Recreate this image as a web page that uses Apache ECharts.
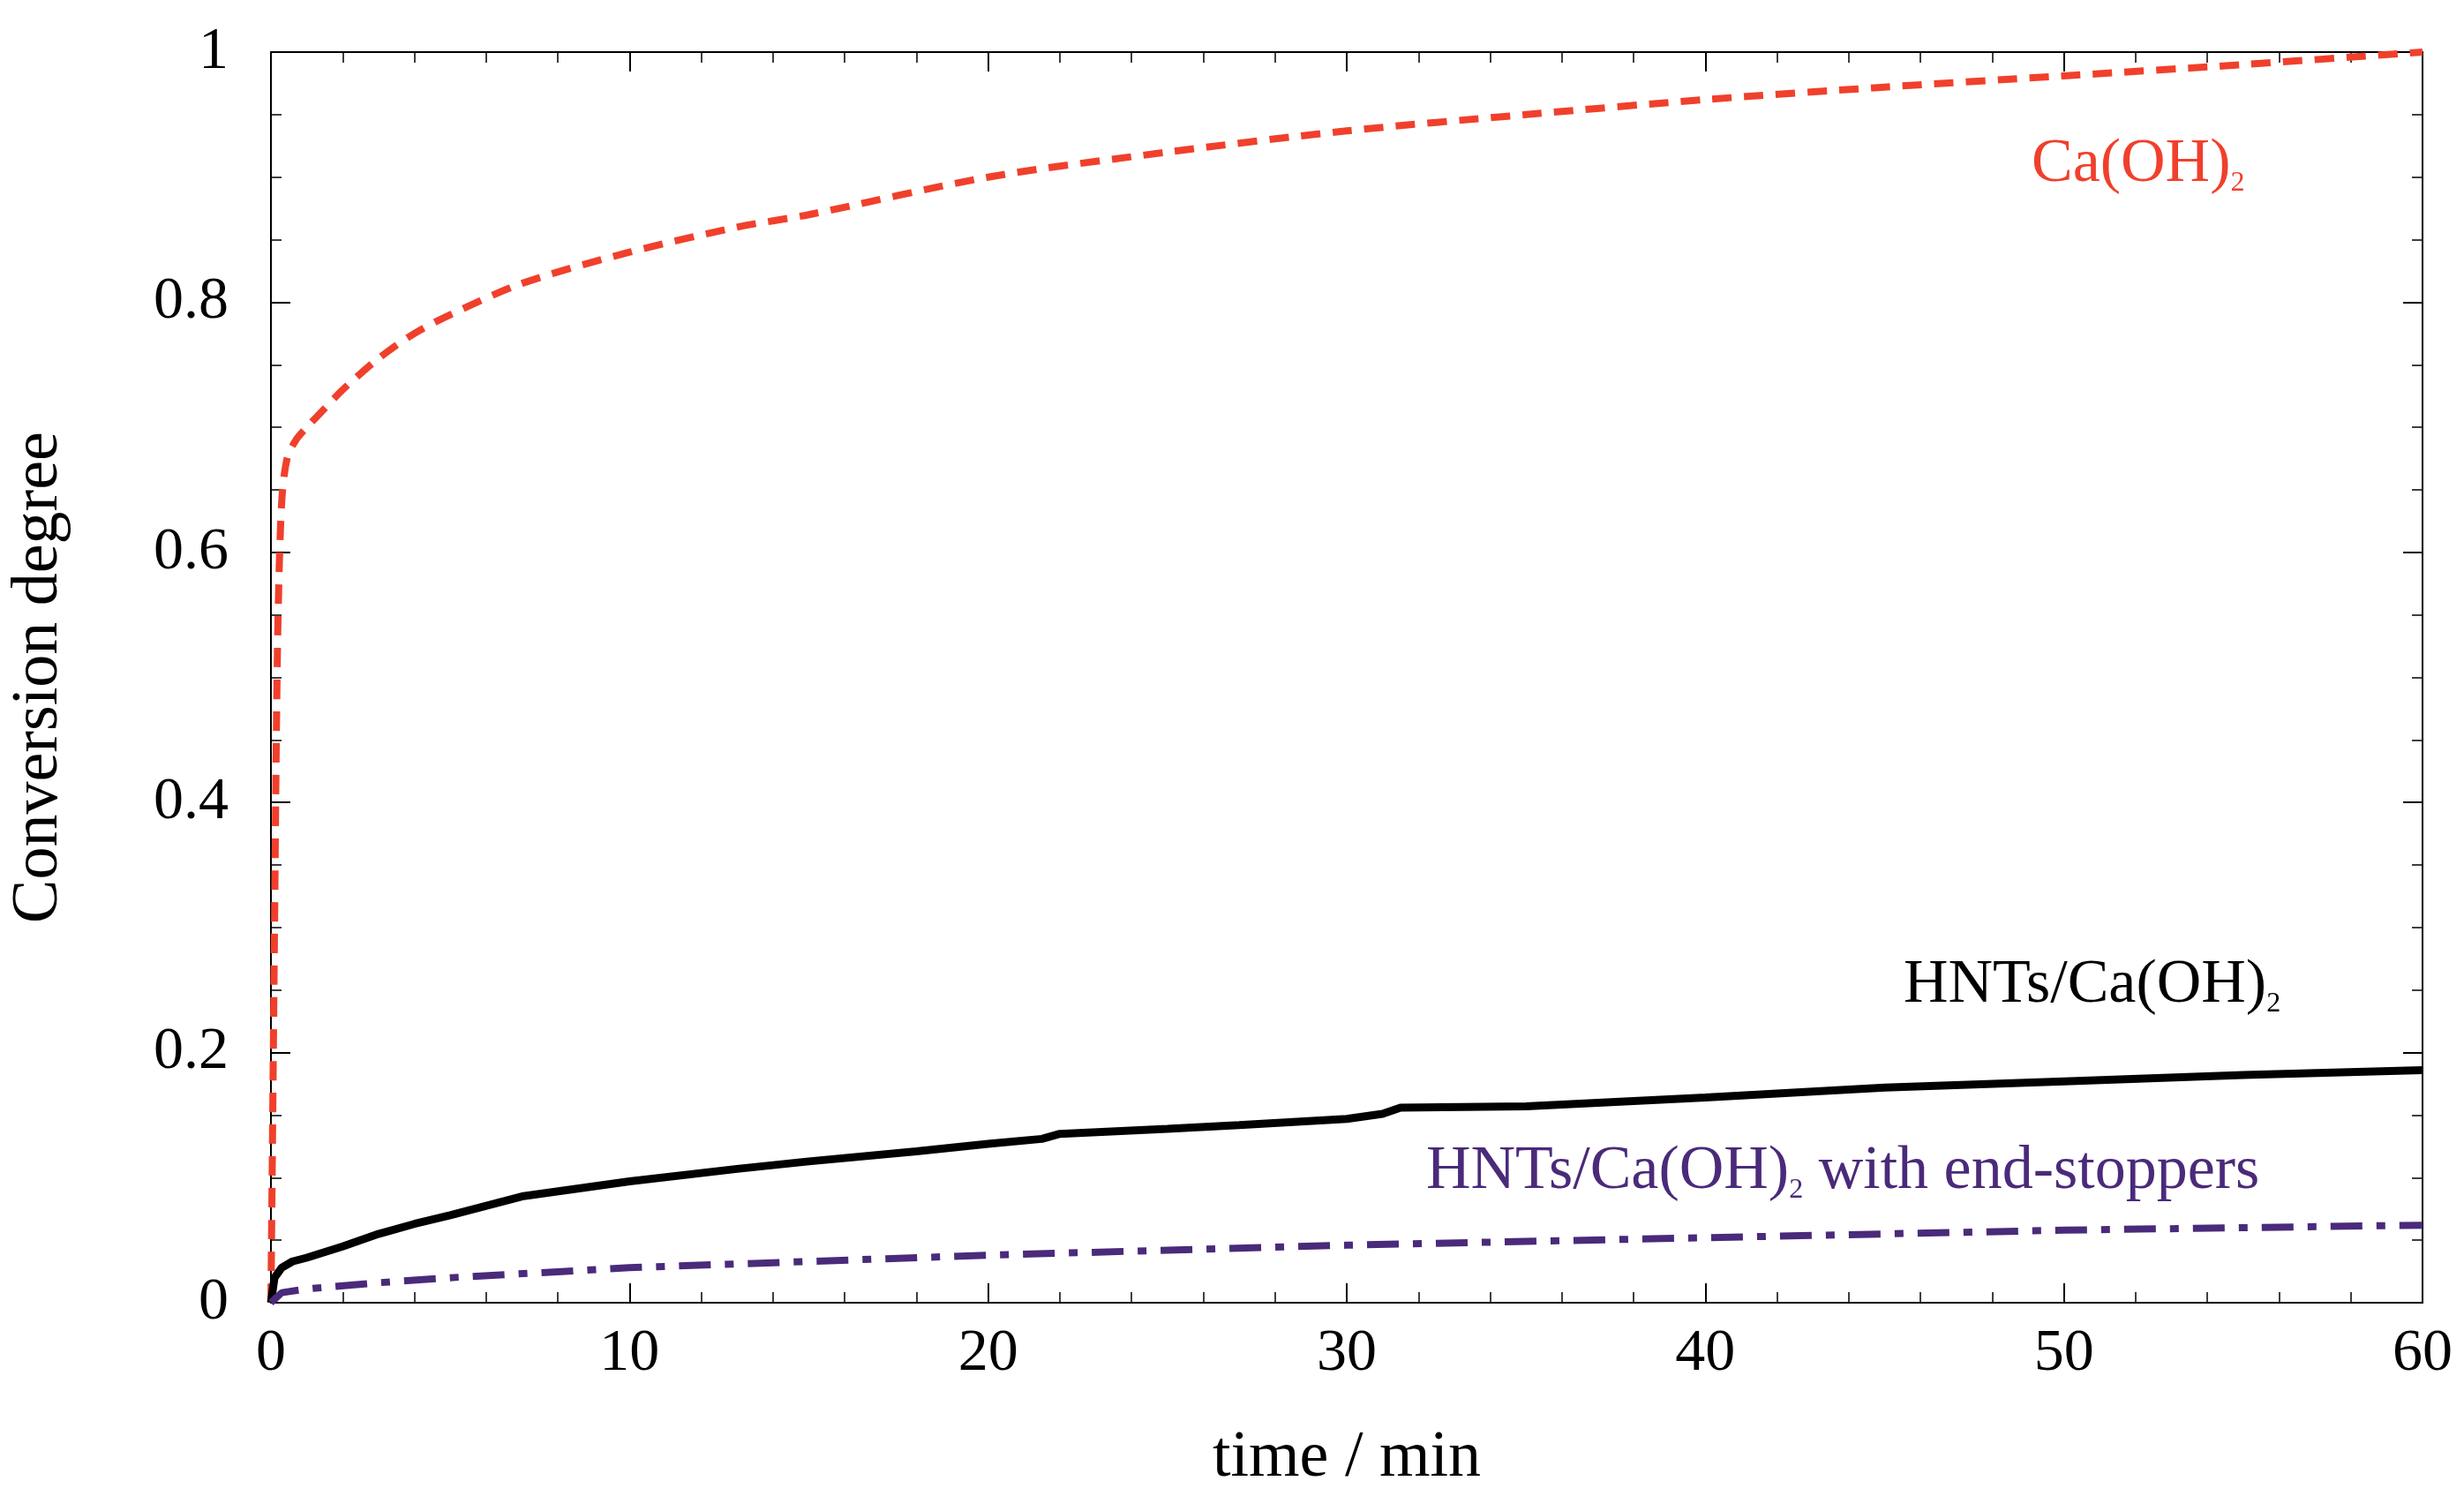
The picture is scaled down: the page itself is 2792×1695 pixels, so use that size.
<!DOCTYPE html>
<html><head><meta charset="utf-8">
<script src="https://cdn.jsdelivr.net/npm/echarts@6/dist/echarts.min.js"></script>
<style>html,body{margin:0;background:#fff}#c{width:2792px;height:1695px}</style>
</head><body><div id="c"></div>
<script>
const caTime = [0,0.05,0.1,0.15,0.2,0.3,0.45,0.7,1,1.5,2,3,4,5,7,10,13,15,20,25,30,35,40,45,50,55,60];
const caVals = [0,0.15,0.3,0.45,0.55,0.64,0.675,0.69,0.7,0.715,0.73,0.755,0.775,0.79,0.815,0.84,0.86,0.87,0.9,0.92,0.937,0.95,0.962,0.972,0.981,0.99,1.0];
const hntTime = [0,0.1,0.3,0.6,1,2,3,4,5,7,10,13,15,18,20,21.5,22,25,27,30,31,31.5,35,40,45,50,55,60];
const hntVals = [0,0.02,0.028,0.033,0.036,0.045,0.055,0.063,0.07,0.085,0.097,0.107,0.113,0.121,0.127,0.131,0.135,0.139,0.142,0.147,0.151,0.156,0.157,0.164,0.172,0.177,0.182,0.186];
const endTime = [0,0.3,1,3,5,10,15,20,25,30,35,40,45,50,55,60];
const endVals = [0,0.008,0.011,0.016,0.02,0.028,0.033,0.038,0.042,0.046,0.049,0.052,0.055,0.058,0.06,0.062];
const xTicks = [0,10,20,30,40,50,60];
const yTicks = [0,0.2,0.4,0.6,0.8,1];

const pair=(a,b)=>a.map((t,i)=>[t,b[i]]);
const font='"Liberation Serif","Times New Roman",serif';
const mk = (split)=>({
  axisLine:{show:true,onZero:false,lineStyle:{color:'#000',width:2}},
  axisTick:{show:true,inside:true,length:22,lineStyle:{color:'#000',width:2}},
  minorTick:{show:true,splitNumber:split,length:12,lineStyle:{color:'#000',width:1.5}},
  splitLine:{show:false}
});
const chart = echarts.init(document.getElementById('c'));
chart.setOption({
  backgroundColor:'#fff',
  animation:false,
  grid:{left:300,right:47,top:59,bottom:216},
  xAxis:[
    Object.assign({type:'value',min:0,max:60,interval:10,position:'bottom',
      name:'time / min',nameLocation:'middle',nameGap:140,
      nameTextStyle:{fontFamily:font,fontSize:74,color:'#000'},
      axisLabel:{fontFamily:font,fontSize:68,color:'#000',margin:24,formatter:v=>xTicks.includes(v)?String(v):''}},mk(5)),
    Object.assign({type:'value',min:0,max:60,interval:10,position:'top',axisLabel:{show:false}},mk(5))
  ],
  yAxis:[
    Object.assign({type:'value',min:0,max:1,interval:0.2,position:'left',
      name:'Conversion degree',nameLocation:'middle',nameGap:225,
      nameTextStyle:{fontFamily:font,fontSize:74,color:'#000'},
      axisLabel:{fontFamily:font,fontSize:68,color:'#000',margin:48,formatter:v=>String(+v.toFixed(1))}},mk(4)),
    Object.assign({type:'value',min:0,max:1,interval:0.2,position:'right',axisLabel:{show:false}},mk(4))
  ],
  series:[
    {type:'line',name:'Ca(OH)2',data:pair(caTime,caVals),showSymbol:false,smooth:0.3,
     lineStyle:{color:'#f0402c',width:8,type:[22,14]}},
    {type:'line',name:'HNTs/Ca(OH)2',data:pair(hntTime,hntVals),showSymbol:false,
     lineStyle:{color:'#000',width:9}},
    {type:'line',name:'end-stoppers',data:pair(endTime,endVals),showSymbol:false,
     lineStyle:{color:'#4a2a7a',width:8,type:[36,16,10,16]}}
  ],
  graphic:[
    {type:'text',left:2302,top:152,style:{rich:{a:{fontFamily:font,fontSize:70,fill:'#f0402c'},s:{fontFamily:font,fontSize:32,fill:'#f0402c',padding:[42,0,0,0]}},text:'{a|Ca(OH)}{s|2}'}},
    {type:'text',left:2157,top:1082,style:{rich:{a:{fontFamily:font,fontSize:70,fill:'#000'},s:{fontFamily:font,fontSize:32,fill:'#000',padding:[42,0,0,0]}},text:'{a|HNTs/Ca(OH)}{s|2}'}},
    {type:'text',left:1616,top:1293,style:{rich:{a:{fontFamily:font,fontSize:70,fill:'#4a2a7a'},s:{fontFamily:font,fontSize:32,fill:'#4a2a7a',padding:[42,0,0,0]}},text:'{a|HNTs/Ca(OH)}{s|2}{a| with end-stoppers}'}}
  ]
});
</script></body></html>
